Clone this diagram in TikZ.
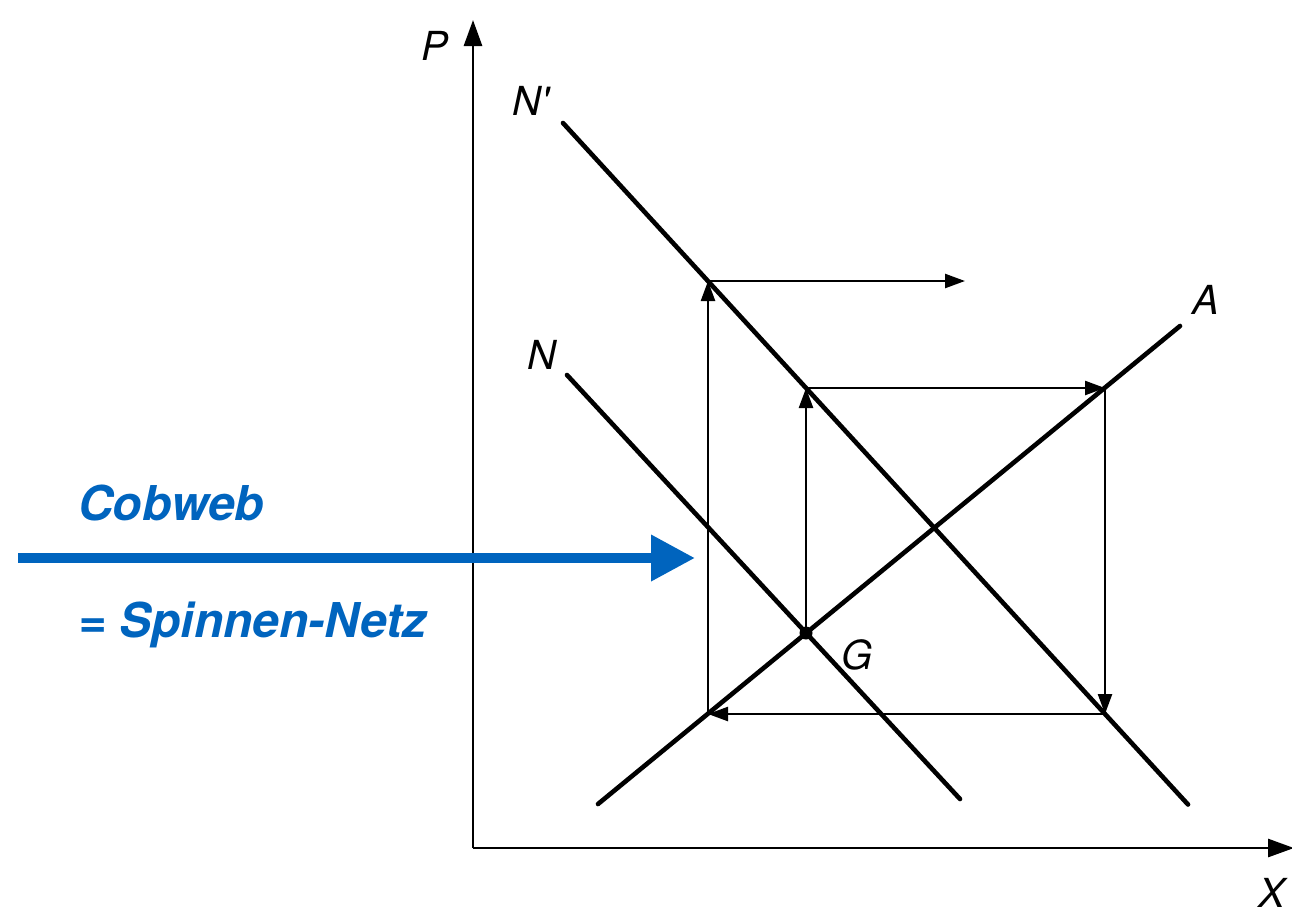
\documentclass[tikz,border=0pt]{standalone}
\usepackage{fontspec}
\setmainfont{TeX Gyre Heros}
\usetikzlibrary{arrows.meta}
\definecolor{cobblue}{HTML}{0064BE}
\tikzset{
  curve/.style={line width=4.6pt, line cap=round},
  axisline/.style={line width=2.8pt, -{Triangle[length=26pt,width=18pt]}},
  webline/.style={line width=2.4pt, -{Triangle[length=20pt,width=14pt]}},
  lbl/.style={font=\fontsize{40}{40}\selectfont\itshape, inner sep=0pt},
  bluetxt/.style={font=\fontsize{48}{48}\selectfont\bfseries\itshape, text=cobblue, inner sep=0pt, anchor=base west}
}
\begin{document}
\begin{tikzpicture}[x=1pt,y=-1pt]
\useasboundingbox (0,0) rectangle (1292,919);
% axes
\coordinate (O) at (473,848);
\coordinate (Ptip) at (473,20);
\coordinate (Xtip) at (1294,848);
\draw[axisline] (O) -- (Ptip);
\draw[axisline] (O) -- (Xtip);
\node[lbl] (P) at (435,46) {P};
\node[lbl, anchor=east] (X) at (1285,893) {X};
% demand/supply lines
\coordinate (Np1) at (563,123);
\coordinate (Np2) at (1188,804.5);
\coordinate (N1) at (567,375);
\coordinate (N2) at (960,799);
\coordinate (A1) at (598,804);
\coordinate (A2) at (1180,326);
\draw[curve] (Np1) -- (Np2);
\draw[curve] (N1) -- (N2);
\draw[curve] (A1) -- (A2);
\node[lbl] (Nplbl) at (531,101) {N\textquotesingle};
\node[lbl] (Nlbl) at (542,355) {N};
\node[lbl] (Albl) at (1206,300) {A};
% equilibrium
\coordinate (G) at (806,633);
\fill (G) circle (6.5pt);
\node[lbl] (Glbl) at (857,655) {G};
% cobweb
\coordinate (c1) at (806,388);
\coordinate (c2) at (1105,388);
\coordinate (c3) at (1105,714);
\coordinate (c4) at (708,714);
\coordinate (c5) at (708,281);
\coordinate (c6) at (965,281);
\draw[webline] (G) -- (c1);
\draw[webline] (c1) -- (c2);
\draw[webline] (c2) -- (c3);
\draw[webline] (c3) -- (c4);
\draw[webline] (c4) -- (c5);
\draw[webline] (c5) -- (c6);
% blue annotation
\coordinate (b1) at (18,558);
\coordinate (b2) at (695,558);
\draw[cobblue, line width=10pt, -{Triangle[length=44pt,width=44pt]}] (b1) -- (b2);
\node[bluetxt] (cob) at (78,520) {Cobweb};
\node[bluetxt] (spin) at (78,637) {= Spinnen-Netz};
\end{tikzpicture}
\end{document}
